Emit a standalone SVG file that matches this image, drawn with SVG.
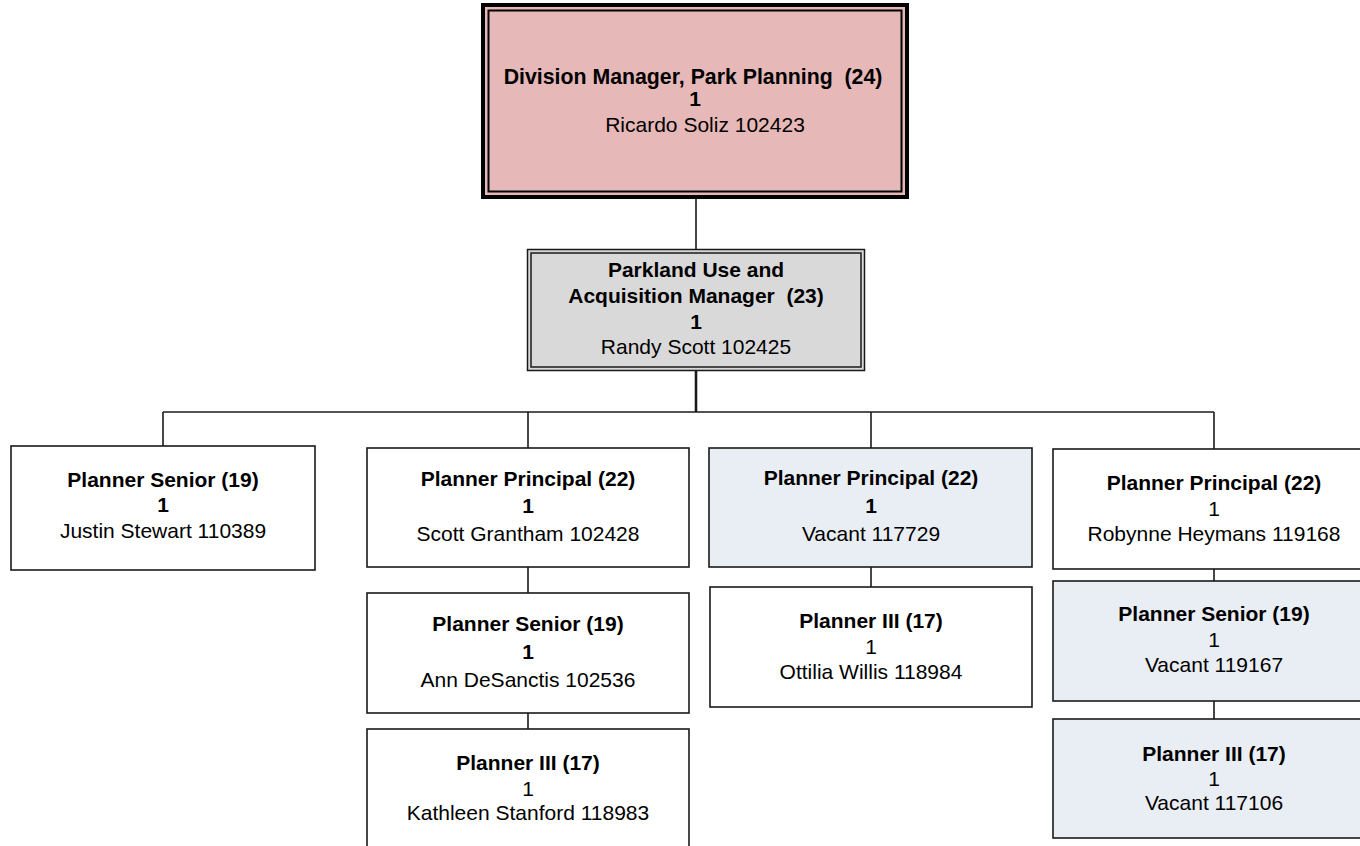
<svg xmlns="http://www.w3.org/2000/svg" width="1360" height="846" viewBox="0 0 1360 846">
<style>
.box{stroke:#1a1a1a;stroke-width:1.6;fill:#ffffff}
.vac{fill:#e9edf4}
.t{font-family:"Liberation Sans",Arial,sans-serif;font-size:21px;fill:#000;text-anchor:middle}
.b{font-weight:bold}
.ln{stroke:#1a1a1a;stroke-width:1.6;fill:none}
</style>
<rect width="1360" height="846" fill="#ffffff"/>
<g id="connectors">
<line class="ln" x1="696" y1="199" x2="696" y2="249"/>
<line class="ln" x1="696" y1="370" x2="696" y2="412" style="stroke-width:2.6"/>
<line class="ln" x1="163" y1="412" x2="1214" y2="412"/>
<line class="ln" x1="163" y1="412" x2="163" y2="446"/>
<line class="ln" x1="528" y1="412" x2="528" y2="448"/>
<line class="ln" x1="871" y1="412" x2="871" y2="448"/>
<line class="ln" x1="1214" y1="412" x2="1214" y2="449"/>
<line class="ln" x1="528" y1="567" x2="528" y2="593"/>
<line class="ln" x1="528" y1="713" x2="528" y2="729"/>
<line class="ln" x1="871" y1="567" x2="871" y2="587"/>
<line class="ln" x1="1214" y1="569" x2="1214" y2="581"/>
<line class="ln" x1="1214" y1="701" x2="1214" y2="719"/>
</g>
<g id="n-division-manager">
<rect x="483" y="5" width="424" height="192" fill="#e6b8b7" stroke="#000" stroke-width="4"/>
<rect x="488.5" y="10.5" width="413" height="181" fill="none" stroke="#000" stroke-width="2"/>
<text class="t b" x="693" y="84" xml:space="preserve" style="font-size:21.3px">Division Manager, Park Planning  (24)</text>
<text class="t b" x="695" y="106">1</text>
<text class="t" x="705" y="132">Ricardo Soliz 102423</text>
</g>
<g id="n-parkland-manager">
<rect x="527.5" y="249.5" width="337" height="121" fill="#d9d9d9" stroke="#1a1a1a" stroke-width="1.5"/>
<rect x="531" y="253" width="330" height="114" fill="none" stroke="#1a1a1a" stroke-width="1.5"/>
<text class="t b" x="696" y="277">Parkland Use and</text>
<text class="t b" x="696" y="303" xml:space="preserve">Acquisition Manager  (23)</text>
<text class="t b" x="696" y="329">1</text>
<text class="t" x="696" y="354">Randy Scott 102425</text>
</g>
<g id="n-justin-stewart">
<rect class="box" x="11" y="446" width="304" height="124"/>
<text class="t b" x="163" y="487">Planner Senior (19)</text>
<text class="t b" x="163" y="512">1</text>
<text class="t" x="163" y="538">Justin Stewart 110389</text>
</g>
<g id="n-scott-grantham">
<rect class="box" x="367" y="448" width="322" height="119"/>
<text class="t b" x="528" y="486">Planner Principal (22)</text>
<text class="t b" x="528" y="513">1</text>
<text class="t" x="528" y="541">Scott Grantham 102428</text>
</g>
<g id="n-ann-desanctis">
<rect class="box" x="367" y="593" width="322" height="120"/>
<text class="t b" x="528" y="631">Planner Senior (19)</text>
<text class="t b" x="528" y="659">1</text>
<text class="t" x="528" y="687">Ann DeSanctis 102536</text>
</g>
<g id="n-kathleen-stanford">
<rect class="box" x="367" y="729" width="322" height="130"/>
<text class="t b" x="528" y="770">Planner III (17)</text>
<text class="t" x="528" y="796">1</text>
<text class="t" x="528" y="820">Kathleen Stanford 118983</text>
</g>
<g id="n-vacant-117729">
<rect class="box vac" x="709" y="448" width="323" height="119"/>
<text class="t b" x="871" y="485">Planner Principal (22)</text>
<text class="t b" x="871" y="513">1</text>
<text class="t" x="871" y="541">Vacant 117729</text>
</g>
<g id="n-ottilia-willis">
<rect class="box" x="710" y="587" width="322" height="120"/>
<text class="t b" x="871" y="628">Planner III (17)</text>
<text class="t" x="871" y="654">1</text>
<text class="t" x="871" y="679">Ottilia Willis 118984</text>
</g>
<g id="n-robynne-heymans">
<rect class="box" x="1053" y="449" width="322" height="120"/>
<text class="t b" x="1214" y="490">Planner Principal (22)</text>
<text class="t" x="1214" y="516">1</text>
<text class="t" x="1214" y="541">Robynne Heymans 119168</text>
</g>
<g id="n-vacant-119167">
<rect class="box vac" x="1053" y="581" width="322" height="120"/>
<text class="t b" x="1214" y="621">Planner Senior (19)</text>
<text class="t" x="1214" y="647">1</text>
<text class="t" x="1214" y="672">Vacant 119167</text>
</g>
<g id="n-vacant-117106">
<rect class="box vac" x="1053" y="719" width="322" height="119"/>
<text class="t b" x="1214" y="761">Planner III (17)</text>
<text class="t" x="1214" y="786">1</text>
<text class="t" x="1214" y="810">Vacant 117106</text>
</g>
</svg>
